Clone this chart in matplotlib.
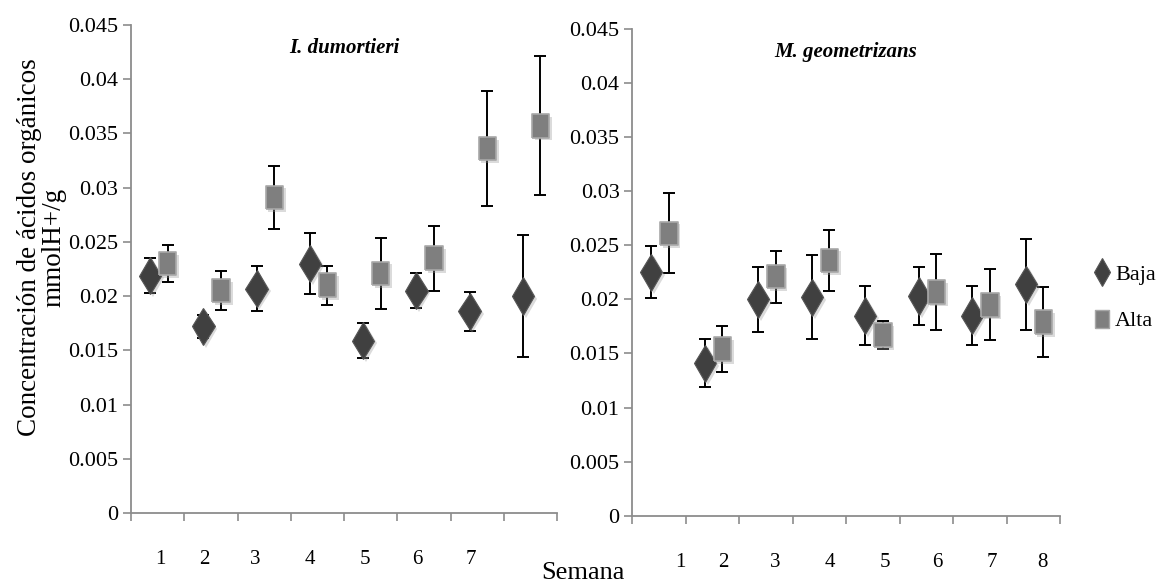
import matplotlib
matplotlib.use('Agg')
import matplotlib.pyplot as plt
import matplotlib.patheffects as pe
from matplotlib.lines import Line2D
from matplotlib.ticker import FixedLocator, FuncFormatter
import numpy as np

# ---------------- data ----------------
weeks_left = ['1', '2', '3', '4', '5', '6', '7']
weeks_right = ['1', '2', '3', '4', '5', '6', '7', '8']

idum_baja = [0.0219, 0.0172, 0.0207, 0.0230, 0.0159, 0.0205, 0.0186, 0.0200]
idum_baja_err = [0.0016, 0.0011, 0.0021, 0.0028, 0.0016, 0.0016, 0.0018, 0.0056]
idum_alta = [0.0230, 0.0205, 0.0291, 0.0210, 0.0221, 0.0235, 0.0336, 0.0357]
idum_alta_err = [0.0017, 0.0018, 0.0029, 0.0018, 0.0033, 0.0030, 0.0053, 0.0064]

mgeo_baja = [0.0225, 0.0141, 0.0200, 0.0202, 0.0185, 0.0203, 0.0185, 0.0214]
mgeo_baja_err = [0.0024, 0.0022, 0.0030, 0.0039, 0.0027, 0.0027, 0.0027, 0.0042]
mgeo_alta = [0.0261, 0.0154, 0.0221, 0.0236, 0.0167, 0.0207, 0.0195, 0.0179]
mgeo_alta_err = [0.0037, 0.0021, 0.0024, 0.0028, 0.0013, 0.0035, 0.0033, 0.0032]

series_labels = ['Baja', 'Alta']
titles = ['I. dumortieri', 'M. geometrizans']
ylabel = 'Concentración de ácidos orgánicos\nmmolH+/g'
xlabel = 'Semana'

# ---------------- layout / style ----------------
left_label_pos = [0.545, 1.37, 2.33, 3.36, 4.39, 5.37, 6.39]
right_label_pos = [0.90, 1.70, 2.67, 3.70, 4.73, 5.70, 6.73, 7.68]
baja_off = 0.36
alta_off = 0.69

plt.rcParams['font.family'] = ['Liberation Serif', 'DejaVu Serif']

W, H = 1159, 585
fig = plt.figure(figsize=(W / 100, H / 100), dpi=100)

ax1 = fig.add_axes([131 / W, (H - 513) / H, 426 / W, 488 / H])
ax2 = fig.add_axes([632 / W, (H - 515.7) / H, 428 / W, 486.7 / H])

axis_col = '#8c8c8c'
baja_col = '#404040'
alta_col = '#7f7f7f'
rect = [(-0.37, -0.5), (0.37, -0.5), (0.37, 0.5), (-0.37, 0.5), (-0.37, -0.5)]
shadow = [pe.SimplePatchShadow(offset=(2, -2), shadow_rgbFace='#999999', alpha=0.35), pe.Normal()]


def draw(ax, baja, baja_err, alta, alta_err, labels, label_pos, title):
    n = len(baja)
    x = np.arange(n)
    ax.errorbar(x + baja_off, baja, yerr=baja_err, fmt='none', ecolor='black',
                elinewidth=1.4, capsize=4, capthick=1.4, zorder=2)
    ax.errorbar(x + alta_off, alta, yerr=alta_err, fmt='none', ecolor='black',
                elinewidth=1.4, capsize=4, capthick=1.4, zorder=2)
    ax.plot(x + baja_off, baja, linestyle='none', marker='d', markersize=19,
            markerfacecolor=baja_col, markeredgecolor='#555555', markeredgewidth=0.8,
            zorder=3, path_effects=shadow)
    ax.plot(x + alta_off, alta, linestyle='none', marker=rect, markersize=17,
            markerfacecolor=alta_col, markeredgecolor='#a8a8a8', markeredgewidth=1.2,
            zorder=3, path_effects=shadow)
    ax.set_xlim(0, 8)
    ax.set_ylim(0, 0.045)
    ax.yaxis.set_major_locator(FixedLocator(np.arange(0, 0.0451, 0.005)))
    ax.yaxis.set_major_formatter(FuncFormatter(lambda v, p: '%g' % round(v, 3)))
    ax.set_xticks(label_pos)
    ax.set_xticklabels(labels)
    ax.xaxis.set_minor_locator(FixedLocator(np.arange(0, 9)))
    ax.tick_params(axis='x', which='major', length=0, pad=27, labelsize=15)
    ax.tick_params(axis='x', which='minor', length=6, width=1.2, color=axis_col, direction='out')
    ax.tick_params(axis='y', length=6, width=1.2, color=axis_col, direction='out', pad=3, labelsize=16)
    for s in ['top', 'right']:
        ax.spines[s].set_visible(False)
    for s in ['left', 'bottom']:
        ax.spines[s].set_color(axis_col)
        ax.spines[s].set_linewidth(1.3)
    ax.set_title(title, fontsize=15, fontweight='bold', fontstyle='italic', y=0.925)


draw(ax1, idum_baja, idum_baja_err, idum_alta, idum_alta_err, weeks_left, left_label_pos, titles[0])
draw(ax2, mgeo_baja, mgeo_baja_err, mgeo_alta, mgeo_alta_err, weeks_right, right_label_pos, titles[1])

fig.text(42 / W, 1 - 247 / H, ylabel, rotation=90, ha='center', va='center',
         multialignment='center', fontsize=19.5, linespacing=0.95)
fig.text(583 / W, 1 - 573 / H, xlabel, ha='center', va='center', fontsize=19)

handles = [
    Line2D([], [], linestyle='none', marker='d', markersize=14, markerfacecolor=baja_col,
           markeredgecolor='#555555', markeredgewidth=0.8),
    Line2D([], [], linestyle='none', marker=rect, markersize=13, markerfacecolor=alta_col,
           markeredgecolor='#a8a8a8', markeredgewidth=1.0),
]
fig.legend(handles, series_labels, loc='center left', bbox_to_anchor=(1093 / W, 1 - 298 / H),
           frameon=False, fontsize=16, handlelength=0.8, handletextpad=0.2,
           labelspacing=1.15, borderpad=0, borderaxespad=0)

fig.savefig('out.png', dpi=100)
